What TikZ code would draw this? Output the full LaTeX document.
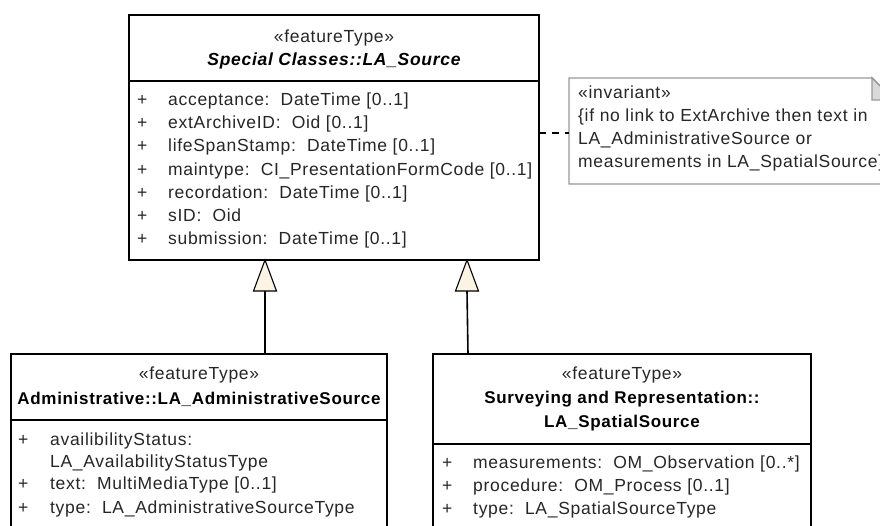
\documentclass[tikz,border=0pt]{standalone}
\usepackage{fontspec}
\setmainfont[LetterSpace=4]{Liberation Sans}
\begin{document}
\begin{tikzpicture}[x=1pt,y=-1pt,
  box/.style={draw=black,line width=1.6pt,fill=white},
  notebox/.style={draw=gray!80,line width=1.4pt,fill=white},
  txt/.style={anchor=base west,inner sep=0pt,font=\fontsize{17.5}{20}\selectfont,text=black!85},
  ctxt/.style={anchor=base,inner sep=0pt,font=\fontsize{17.5}{20}\selectfont,text=black!85},
  ttl/.style={anchor=base,inner sep=0pt,font=\fontsize{17}{20}\selectfont\bfseries,text=black},
  gen/.style={line width=1.6pt},
  tri/.style={draw=black,line width=1.1pt,fill={rgb,255:red,251;green,243;blue,228}}
]
\useasboundingbox (0,0) rectangle (880,525);
\clip (0,0) rectangle (880,525);
% top class
\draw[box] (129,15) rectangle (539,260);
\draw[line width=1.6pt] (129,81) -- (539,81);
\node[ctxt] (st1) at (334,42) {«featureType»};
\node[ttl,font=\fontsize{17.5}{20}\selectfont\bfseries\itshape] (t1) at (334,65) {Special Classes::LA\_Source};
\foreach \y/\t [count=\i] in {105/{acceptance:\ \ DateTime [0..1]},128/{extArchiveID:\ \ Oid [0..1]},151/{lifeSpanStamp:\ \ DateTime [0..1]},175/{maintype:\ \ CI\_PresentationFormCode [0..1]},198/{recordation:\ \ DateTime [0..1]},221/{sID:\ \ Oid},244/{submission:\ \ DateTime [0..1]}}{
  \node[txt] (pa\i) at (137,\y) {+};
  \node[txt] (a\i) at (168,\y) {\t};
}
% note
\draw[notebox] (569,78) -- (872,78) -- (894,100) -- (894,184) -- (569,184) -- cycle;
\draw[draw=gray!80,line width=1.4pt,fill=gray!30] (872,78) -- (872,100) -- (894,100) -- cycle;
\node[txt] (n1) at (578,98) {«invariant»};
\node[txt] (n2) at (578,121) {\{if no link to ExtArchive then text in};
\node[txt] (n3) at (578,144) {LA\_AdministrativeSource or};
\node[txt] (n4) at (578,167) {measurements in LA\_SpatialSource\}};
\coordinate (dL) at (539,133);
\coordinate (dR) at (569,133);
\draw[line width=1.6pt,dash pattern=on 7pt off 6pt] (dL) -- (dR);
% bottom left class
\draw[box] (11,354) rectangle (387,540);
\draw[line width=1.6pt] (11,420) -- (387,420);
\node[ctxt] (st2) at (199,379) {«featureType»};
\node[ttl] (t2) at (199,404) {Administrative::LA\_AdministrativeSource};
\node[txt] (pb1) at (18,445) {+};
\node[txt] (b1) at (50,445) {availibilityStatus:};
\node[txt] (b1b) at (50,467) {LA\_AvailabilityStatusType};
\node[txt] (pb2) at (18,489) {+};
\node[txt] (b2) at (50,489) {text:\ \ MultiMediaType [0..1]};
\node[txt] (pb3) at (18,513) {+};
\node[txt] (b3) at (50,513) {type:\ \ LA\_AdministrativeSourceType};
% bottom right class
\draw[box] (433,354) rectangle (811,540);
\draw[line width=1.6pt] (433,444) -- (811,444);
\node[ctxt] (st3) at (622,379) {«featureType»};
\node[ttl] (t3) at (622,403) {Surveying and Representation::};
\node[ttl] (t3b) at (622,427) {LA\_SpatialSource};
\node[txt] (pc1) at (442,468) {+};
\node[txt] (c1) at (473,468) {measurements:\ \ OM\_Observation [0..*]};
\node[txt] (pc2) at (442,491) {+};
\node[txt] (c2) at (473,491) {procedure:\ \ OM\_Process [0..1]};
\node[txt] (pc3) at (442,514) {+};
\node[txt] (c3) at (473,514) {type:\ \ LA\_SpatialSourceType};
% generalizations
\coordinate (g1b) at (265,354);
\coordinate (g1t) at (265,260);
\draw[gen] (g1b) -- (265,291);
\draw[tri] (g1t) -- (276.5,291) -- (253.5,291) -- cycle;
\coordinate (g2b) at (468,354);
\coordinate (g2t) at (467,260);
\draw[gen] (g2b) -- (467,291);
\draw[tri] (g2t) -- (478.5,291) -- (455.5,291) -- cycle;
\end{tikzpicture}
\end{document}
